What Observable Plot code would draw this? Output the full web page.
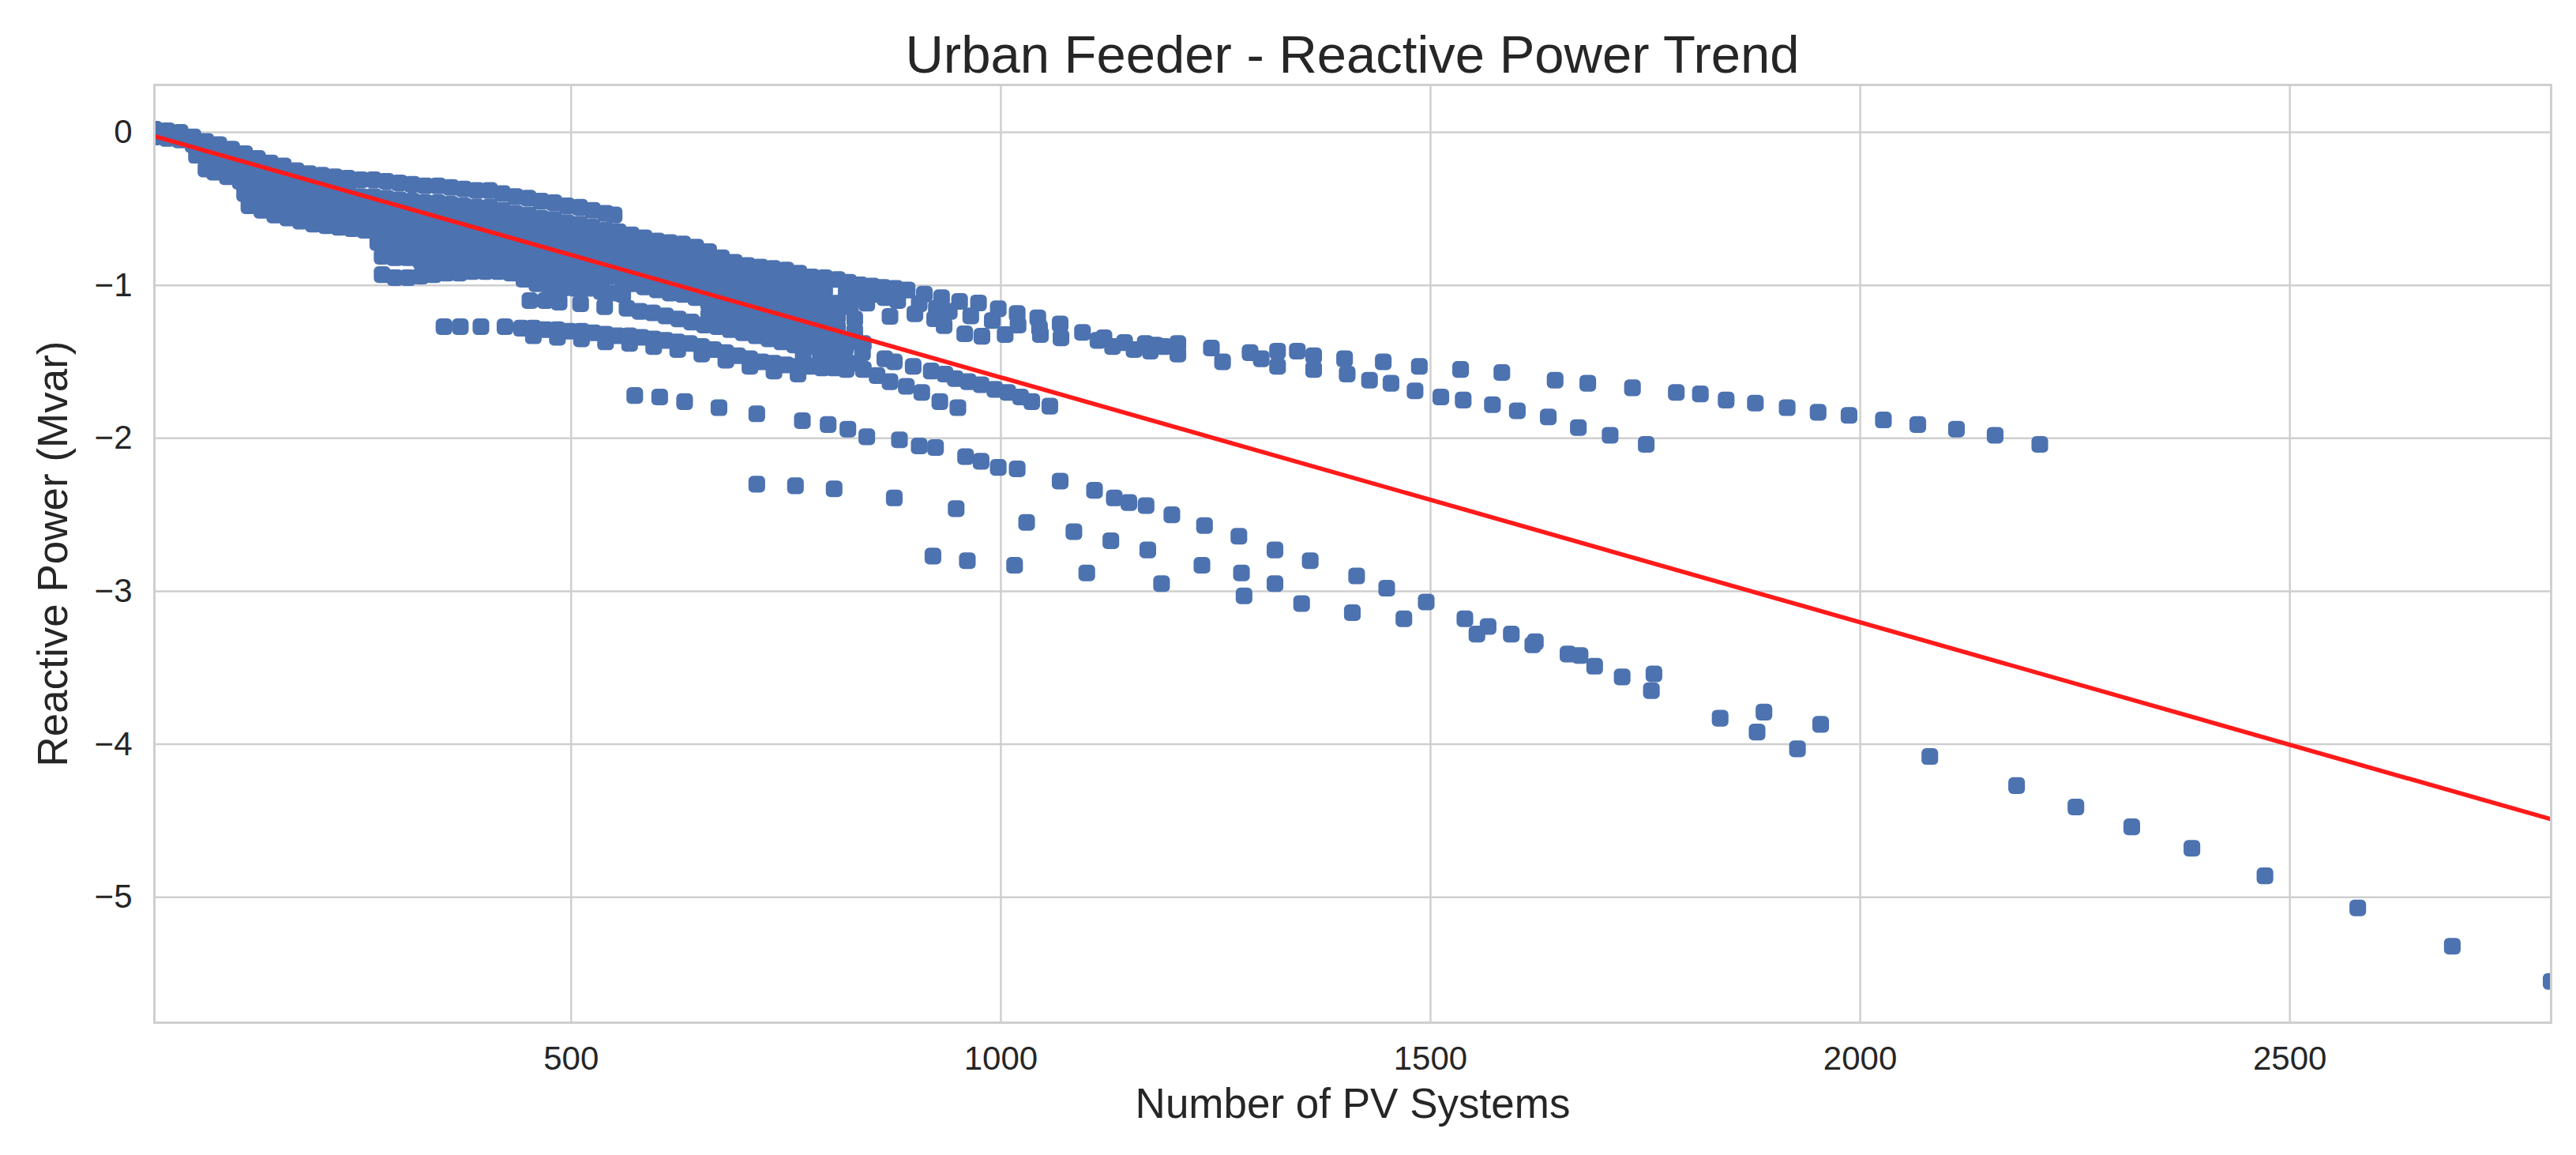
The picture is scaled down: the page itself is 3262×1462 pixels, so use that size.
<!DOCTYPE html>
<html>
<head>
<meta charset="utf-8">
<script src="https://cdn.jsdelivr.net/npm/d3@7"></script>
<script src="https://cdn.jsdelivr.net/npm/@observablehq/plot@0.6"></script>
<style>
  html, body { margin: 0; padding: 0; background: #ffffff; }
  #title {
    width: 3262px; height: 97px; box-sizing: border-box;
    padding: 35px 32px 0 195px; text-align: center; white-space: nowrap;
    font-family: "Liberation Sans", Arial, sans-serif; font-size: 67px; line-height: 67px;
    color: #262626;
  }
</style>
</head>
<body>
<div id="title">Urban Feeder - Reactive Power Trend</div>
<div id="chart"></div>
<script>
// ---- axis / text ----
const titleText = "Urban Feeder - Reactive Power Trend";
const xLabel = "Number of PV Systems";
const yLabel = "Reactive Power (Mvar)";
const xTicks = [500, 1000, 1500, 2000, 2500];
const yTicks = [0, -1, -2, -3, -4, -5];
const xDomain = [15, 2804];
const yDomain = [-5.82, 0.31];

// ---- scatter points [PV systems, Mvar] ----
const bandTop = [[15,0.02],[30,0.01],[45,0.00],[60,-0.03],[75,-0.06],[90,-0.08],[105,-0.11],[120,-0.14],[135,-0.17],[150,-0.20],[165,-0.22],[180,-0.25],[195,-0.27],[210,-0.28],[225,-0.29],[240,-0.30],[255,-0.31],[270,-0.31],[285,-0.32],[300,-0.33],[315,-0.34],[330,-0.35],[345,-0.35],[360,-0.36],[375,-0.37],[390,-0.38],[405,-0.38],[420,-0.40],[435,-0.42],[450,-0.43],[465,-0.45],[480,-0.46],[495,-0.48],[510,-0.49],[525,-0.51],[540,-0.53],[550,-0.54]];
const bandTop2 = [[15,-0.03],[30,-0.04],[45,-0.05],[60,-0.08],[75,-0.11],[90,-0.13],[105,-0.16],[120,-0.19],[135,-0.22],[150,-0.25],[165,-0.27],[180,-0.30],[195,-0.32],[210,-0.33],[225,-0.34],[240,-0.35]];
const cluster1 = [[64,-0.15],[75,-0.17],[90,-0.19],[105,-0.22],[120,-0.25],[135,-0.28],[150,-0.31],[165,-0.33],[180,-0.36],[195,-0.38],[210,-0.39],[225,-0.40],[240,-0.41],[255,-0.42],[270,-0.42],[285,-0.43],[300,-0.44],[315,-0.45],[330,-0.46],[345,-0.46],[360,-0.47],[375,-0.48],[390,-0.49],[405,-0.49],[420,-0.51],[435,-0.53],[450,-0.54],[465,-0.56],[480,-0.57],[495,-0.59],[510,-0.60],[525,-0.62],[540,-0.64],[555,-0.65]];
const cluster2 = [[75,-0.24],[85,-0.26],[100,-0.29],[115,-0.32],[130,-0.35],[145,-0.38],[160,-0.40],[175,-0.43],[190,-0.45],[205,-0.47],[220,-0.48],[235,-0.49],[250,-0.50],[265,-0.50],[280,-0.51],[295,-0.52],[310,-0.53],[325,-0.54],[340,-0.54],[355,-0.55],[370,-0.56],[385,-0.57],[400,-0.57],[415,-0.58],[430,-0.60],[445,-0.62],[460,-0.63],[475,-0.65],[490,-0.66],[505,-0.68],[520,-0.69],[535,-0.71],[550,-0.72],[560,-0.74]];
const cluster3 = [[120,-0.40],[135,-0.43],[150,-0.46],[165,-0.48],[180,-0.51],[195,-0.53],[210,-0.54],[225,-0.55],[240,-0.56],[255,-0.57],[270,-0.57],[285,-0.58],[300,-0.59],[315,-0.60],[330,-0.61],[345,-0.61],[360,-0.62],[375,-0.63],[390,-0.64],[405,-0.64],[420,-0.66],[435,-0.68],[450,-0.69],[465,-0.71],[480,-0.72],[495,-0.74],[510,-0.75],[525,-0.77],[540,-0.79],[555,-0.80]];
const cluster4 = [[125,-0.48],[140,-0.51],[155,-0.54],[170,-0.56],[185,-0.58],[200,-0.60],[215,-0.61],[230,-0.62],[245,-0.63],[260,-0.64],[275,-0.64],[290,-0.65],[305,-0.66],[320,-0.67],[335,-0.68],[350,-0.69],[365,-0.69],[380,-0.70],[395,-0.71],[410,-0.72],[425,-0.74],[440,-0.75],[455,-0.77],[470,-0.78],[485,-0.80],[500,-0.81],[515,-0.83],[530,-0.85],[545,-0.86],[560,-0.88]];
const cluster5 = [[275,-0.72],[290,-0.73],[305,-0.74],[320,-0.75],[335,-0.76],[350,-0.77],[365,-0.77],[380,-0.78],[395,-0.79],[410,-0.80],[425,-0.82],[440,-0.83],[455,-0.85],[470,-0.86],[485,-0.88],[500,-0.89],[515,-0.91],[530,-0.93],[545,-0.94],[560,-0.96]];
const cluster6 = [[280,-0.81],[295,-0.82],[310,-0.82],[325,-0.84],[340,-0.84],[355,-0.85],[370,-0.86],[385,-0.87],[400,-0.87],[415,-0.89],[430,-0.90],[445,-0.92],[460,-0.93],[475,-0.95],[490,-0.96],[505,-0.98],[520,-0.99],[535,-1.01]];
const clusterBottom = [[280,-0.93],[295,-0.95],[310,-0.95],[325,-0.94],[340,-0.93],[355,-0.92],[370,-0.92],[385,-0.91],[400,-0.91],[415,-0.91],[430,-0.92],[445,-0.96],[460,-0.99],[475,-1.01],[490,-1.02],[505,-1.02],[520,-1.02],[535,-1.04],[550,-1.05],[560,-1.06]];
const fan0 = [[570,-0.67],[585,-0.69],[600,-0.71],[615,-0.72],[630,-0.73],[645,-0.75],[660,-0.78],[675,-0.82],[690,-0.85],[705,-0.87],[720,-0.88],[735,-0.89],[750,-0.90],[765,-0.92]];
const fan1 = [[570,-0.75],[585,-0.77],[600,-0.79],[615,-0.81],[630,-0.82],[645,-0.84],[660,-0.88],[675,-0.92],[690,-0.95],[705,-0.96],[720,-0.97],[735,-0.98],[750,-0.99],[765,-1.01],[780,-1.02],[795,-1.03],[825,-1.06],[840,-1.07]];
const fan2 = [[570,-0.83],[585,-0.85],[600,-0.87],[615,-0.89],[630,-0.90],[645,-0.92],[660,-0.96],[675,-1.00],[690,-1.03],[705,-1.04],[720,-1.05],[735,-1.06],[750,-1.07],[765,-1.09],[780,-1.10],[795,-1.11],[810,-1.12],[825,-1.14]];
const fan3 = [[570,-0.91],[585,-0.93],[600,-0.95],[615,-0.97],[630,-0.98],[645,-1.00],[660,-1.04],[675,-1.08],[690,-1.11],[705,-1.12],[720,-1.13],[735,-1.14],[750,-1.15],[765,-1.17],[780,-1.18],[795,-1.19],[810,-1.20],[830,-1.22]];
const fan4 = [[570,-0.99],[585,-1.01],[600,-1.03],[615,-1.05],[630,-1.06],[645,-1.08],[660,-1.12],[675,-1.16],[690,-1.19],[705,-1.20],[720,-1.21],[735,-1.22],[750,-1.23],[765,-1.25],[780,-1.26],[795,-1.27],[810,-1.28],[830,-1.30]];
const fan5 = [[660,-1.20],[675,-1.24],[690,-1.27],[705,-1.28],[720,-1.29],[735,-1.30],[750,-1.31],[765,-1.33],[780,-1.34],[795,-1.35],[810,-1.36],[825,-1.37],[840,-1.38]];
const upperRow = [[780,-0.945],[795,-0.95],[810,-0.962],[823,-0.98],[836,-0.997],[850,-1.005],[863,-1.014],[877,-1.02],[891,-1.031],[911,-1.057],[931,-1.081],[952,-1.105],[974,-1.115],[997,-1.153],[1019,-1.184],[1043,-1.213],[1069,-1.253],[1095,-1.308],[1120,-1.343],[1144,-1.374]];
const middleRow = [[790,-1.03],[820,-1.05],[850,-1.06],[865,-1.08],[880,-1.10],[905,-1.12],[925,-1.15],[940,-1.17],[965,-1.20],[990,-1.23],[1020,-1.26],[1045,-1.28]];
const lowerRow = [[778,-1.117],[807,-1.117],[844,-1.117],[871,-1.203],[900,-1.186],[923,-1.219],[934,-1.264],[958,-1.317],[978,-1.333],[1005,-1.322],[1046,-1.322],[1070,-1.343]];
const upperTail1 = [[1113,-1.36],[1130,-1.40],[1155,-1.42],[1168,-1.38],[1174,-1.43],[1180,-1.39],[1190,-1.40],[1206,-1.38],[1245,-1.41],[1290,-1.44],[1322,-1.43],[1345,-1.43],[1364,-1.46],[1400,-1.48],[1445,-1.50],[1487,-1.53],[1535,-1.55],[1583,-1.57],[1645,-1.62],[1683,-1.64],[1735,-1.67],[1786,-1.70],[1814,-1.71],[1844,-1.75],[1878,-1.77],[1915,-1.80],[1951,-1.83],[1987,-1.85],[2027,-1.88],[2067,-1.91],[2112,-1.94],[2157,-1.98],[2209,-2.04]];
const upperTail2 = [[1206,-1.45],[1258,-1.50],[1303,-1.48],[1322,-1.53],[1364,-1.55],[1403,-1.58],[1429,-1.62],[1454,-1.64],[1482,-1.69],[1512,-1.73],[1538,-1.75],[1572,-1.78],[1601,-1.82],[1637,-1.86],[1672,-1.93],[1709,-1.98],[1751,-2.04]];
const branch1 = [[452,-1.10],[470,-1.10],[486,-1.11],[511,-1.12],[539,-1.14],[565,-1.15],[580,-1.17],[595,-1.18],[610,-1.20],[625,-1.22],[640,-1.24],[655,-1.26],[670,-1.27],[685,-1.29],[700,-1.31],[715,-1.33],[730,-1.35],[745,-1.37],[760,-1.39],[775,-1.40],[790,-1.41],[805,-1.41],[819,-1.41],[839,-1.44],[865,-1.48],[876,-1.50],[898,-1.53],[919,-1.56],[935,-1.58],[947,-1.61],[962,-1.63],[977,-1.65],[993,-1.68],[1008,-1.70],[1023,-1.73],[1036,-1.76],[1057,-1.79]];
const branch1b = [[770,-1.47],[790,-1.48],[805,-1.49],[820,-1.50],[835,-1.51]];
const branch2 = [[352,-1.27],[371,-1.27],[395,-1.27],[423,-1.27],[442,-1.28],[456,-1.28],[470,-1.29],[484,-1.29],[498,-1.30],[512,-1.30],[526,-1.31],[540,-1.32],[554,-1.33],[568,-1.33],[582,-1.34],[596,-1.35],[610,-1.36],[624,-1.37],[638,-1.38],[652,-1.40],[666,-1.42],[680,-1.44],[694,-1.46],[708,-1.48],[722,-1.50],[736,-1.51],[750,-1.52],[764,-1.53],[778,-1.53],[792,-1.54],[806,-1.54],[820,-1.55],[840,-1.55],[856,-1.59],[871,-1.63],[890,-1.66],[908,-1.70],[929,-1.76],[950,-1.80]];
const branch2b = [[456,-1.33],[484,-1.34],[512,-1.35],[540,-1.37],[568,-1.38],[596,-1.40],[624,-1.42],[652,-1.45],[680,-1.49],[708,-1.53],[736,-1.56],[764,-1.58]];
const bandA = [[574,-1.72],[603,-1.73],[632,-1.76],[672,-1.80],[716,-1.84],[769,-1.885],[799,-1.91],[822,-1.94],[844,-1.99],[882,-2.01],[905,-2.05],[924,-2.06],[959,-2.12],[977,-2.15],[997,-2.19],[1019,-2.20],[1069,-2.28],[1109,-2.34],[1132,-2.39],[1149,-2.42],[1169,-2.44],[1199,-2.50],[1237,-2.57],[1277,-2.64],[1319,-2.73],[1360,-2.80],[1414,-2.90],[1449,-2.98],[1495,-3.07],[1540,-3.18],[1567,-3.23],[1594,-3.28],[1622,-3.33],[1660,-3.41],[1691,-3.49],[1723,-3.56],[1757,-3.65],[1837,-3.83],[1880,-3.92],[1927,-4.03]];
const bandB = [[716,-2.30],[761,-2.31],[806,-2.33],[876,-2.39],[948,-2.46],[1030,-2.55],[1085,-2.61],[1128,-2.67],[1171,-2.73],[1234,-2.83],[1280,-2.88],[1319,-2.95]];
const bandC = [[921,-2.77],[961,-2.80],[1016,-2.83],[1100,-2.88],[1187,-2.95],[1283,-3.03],[1350,-3.08],[1409,-3.14],[1469,-3.18],[1554,-3.28],[1619,-3.35],[1674,-3.42],[1760,-3.54],[1888,-3.79],[1954,-3.87],[2081,-4.08],[2182,-4.27],[2251,-4.41],[2316,-4.54],[2386,-4.68],[2471,-4.86],[2579,-5.07],[2689,-5.32],[2804,-5.55]];

// ---- fitted trend line ----
const trendX = [15, 2804];
const trendY = [-0.025, -4.49];

const points = [
  ...bandTop, ...bandTop2, ...cluster1, ...cluster2, ...cluster3, ...cluster4, ...cluster5, ...cluster6, ...clusterBottom,
  ...fan0, ...fan1, ...fan2, ...fan3, ...fan4, ...fan5, ...upperRow, ...middleRow, ...lowerRow,
  ...upperTail1, ...upperTail2, ...branch1, ...branch1b, ...branch2, ...branch2b, ...bandA, ...bandB, ...bandC
].map(([x, y]) => ({x, y}));
const trend = trendX.map((x, i) => ({x, y: trendY[i]}));

const font = "Liberation Sans, Arial, sans-serif";
const ink = "#262626";
const gridColor = "#cfcfcf";
const dotColor = "#4C72B0";

// rounded square marker
const roundedSquare = {
  draw(context, size) {
    const w = Math.sqrt(size), h = w / 2, c = w * 0.28;
    context.moveTo(-h + c, -h);
    context.lineTo(h - c, -h);
    context.arcTo(h, -h, h, -h + c, c);
    context.lineTo(h, h - c);
    context.arcTo(h, h, h - c, h, c);
    context.lineTo(-h + c, h);
    context.arcTo(-h, h, -h, h - c, c);
    context.lineTo(-h, -h + c);
    context.arcTo(-h, -h, -h + c, -h, c);
    context.closePath();
  }
};

const chart = Plot.plot({
  width: 3262,
  height: 1365,
  marginTop: 10,
  marginBottom: 168,
  marginLeft: 195,
  marginRight: 32,
  style: {fontFamily: font, fontSize: "42px", color: ink, background: "#ffffff"},
  x: {domain: xDomain},
  y: {domain: yDomain},
  marks: [
    Plot.gridX(xTicks, {stroke: gridColor, strokeWidth: 2.5, strokeOpacity: 1}),
    Plot.gridY(yTicks, {stroke: gridColor, strokeWidth: 2.5, strokeOpacity: 1}),
    Plot.dot(points, {x: "x", y: "y", symbol: roundedSquare, r: 11.9, fill: dotColor, stroke: "none", clip: true}),
    Plot.line(trend, {x: "x", y: "y", stroke: "#ff1a1a", strokeWidth: 5.5, clip: true}),
    Plot.frame({stroke: gridColor, strokeWidth: 3}),
    Plot.axisX(xTicks, {tickSize: 0, tickPadding: 30, label: null, tickFormat: d => String(d), fill: ink}),
    Plot.axisY(yTicks, {tickSize: 0, tickPadding: 28, label: null, tickFormat: d => d === 0 ? "0" : "\u2212" + Math.abs(d), fill: ink}),
    Plot.text([xLabel], {text: d => d, frameAnchor: "bottom", dy: 120, lineAnchor: "bottom", fontSize: 53, fill: ink}),
    Plot.text([yLabel], {text: d => d, frameAnchor: "left", dx: -127, rotate: -90, textAnchor: "middle", lineAnchor: "middle", fontSize: 53, fill: ink})
  ]
});
document.getElementById("chart").appendChild(chart);
</script>
</body>
</html>
